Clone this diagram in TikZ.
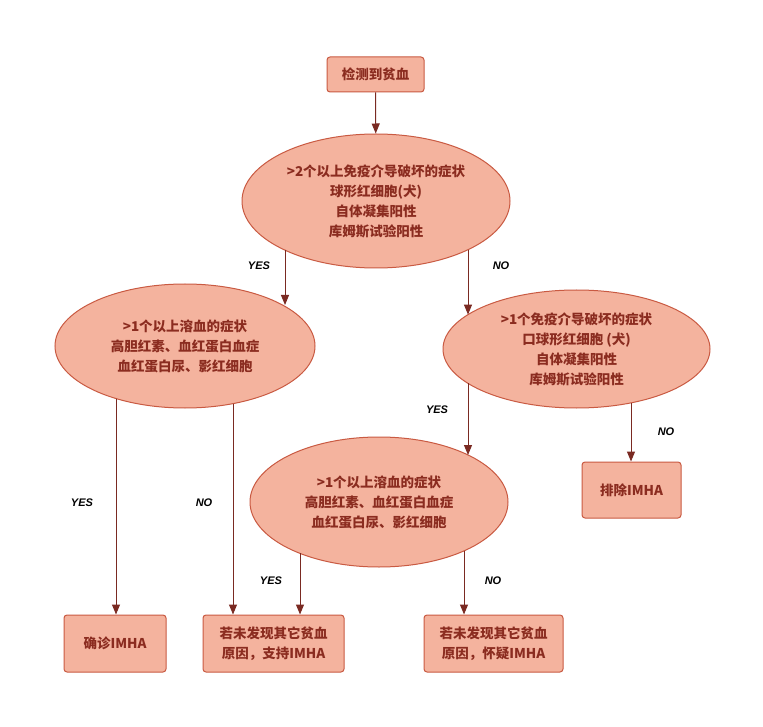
\documentclass[tikz,border=0pt]{standalone}
\usepackage{fontspec}
\usetikzlibrary{shapes.geometric,arrows.meta}
\newfontfamily\cjk{Noto Sans CJK SC}
\newfontfamily\lblfont{Liberation Sans}
\definecolor{fillc}{HTML}{F4B39E}
\definecolor{linec}{HTML}{C95A42}
\definecolor{textc}{HTML}{8B2C20}
\definecolor{arrc}{HTML}{7A2A22}
\begin{document}
\begin{tikzpicture}[x=1pt,y=-1pt,
  shapebase/.style={fill=fillc,draw=linec,line width=1pt,text=textc,font=\cjk\bfseries\fontsize{13.5}{20}\selectfont,align=center,inner sep=0pt},
  ell/.style={shapebase,ellipse},
  rbox/.style={shapebase,rectangle,rounded corners=3pt},
  arr/.style={draw=arrc,line width=1pt,-{Triangle[length=10pt,width=8pt]},fill=arrc},
  lbl/.style={font=\lblfont\bfseries\itshape\fontsize{11}{13}\selectfont,text=black}]
\useasboundingbox (0,0) rectangle (763,727);
\fill[white] (0,0) rectangle (763,727);
% nodes
\node[rbox,minimum width=97pt,minimum height=35pt] (top) at (375.5,74.5) {检测到贫血};
\node[ell,minimum width=268pt,minimum height=134pt] (e1) at (376,201) {>2个以上免疫介导破坏的症状\\球形红细胞(犬)\\自体凝集阳性\\库姆斯试验阳性};
\node[ell,minimum width=260pt,minimum height=124pt] (e2) at (185,346) {>1个以上溶血的症状\\高胆红素、血红蛋白血症\\血红蛋白尿、影红细胞};
\node[ell,minimum width=267pt,minimum height=118pt] (e3) at (576.5,349) {>1个免疫介导破坏的症状\\口球形红细胞 (犬)\\自体凝集阳性\\库姆斯试验阳性};
\node[ell,minimum width=258pt,minimum height=130pt] (e4) at (379,502) {>1个以上溶血的症状\\高胆红素、血红蛋白血症\\血红蛋白尿、影红细胞};
\node[rbox,minimum width=102pt,minimum height=57pt] (b1) at (115,643.5) {确诊IMHA};
\node[rbox,minimum width=141pt,minimum height=57pt] (b2) at (273.5,643.5) {若未发现其它贫血\\原因，支持IMHA};
\node[rbox,minimum width=139pt,minimum height=57pt] (b3) at (493.5,643.5) {若未发现其它贫血\\原因，怀疑IMHA};
\node[rbox,minimum width=99pt,minimum height=56pt] (b4) at (631.5,490) {排除IMHA};
% connector endpoints on ellipse borders
\coordinate (s1) at (285,250);
\coordinate (t1) at (285,305);
\coordinate (s2) at (468,249.7);
\coordinate (t2) at (468,314.6);
\coordinate (s3) at (468,383.4);
\coordinate (t3) at (468,455);
\coordinate (s4) at (631,403);
\coordinate (s5) at (116,398.5);
\coordinate (s6) at (233,403.6);
\coordinate (s7) at (300,553.4);
\coordinate (s8) at (464,551);
% connectors
\draw[arr] (top) -- (e1);
\draw[arr] (s1) -- (t1);
\draw[arr] (s2) -- (t2);
\draw[arr] (s3) -- (t3);
\draw[arr] (s4) -- (s4 |- b4.north);
\draw[arr] (s5) -- (s5 |- b1.north);
\draw[arr] (s6) -- (s6 |- b2.north);
\draw[arr] (s7) -- (s7 |- b2.north);
\draw[arr] (s8) -- (s8 |- b3.north);
% labels
\node[lbl] (l1) at (259,266) {YES};
\node[lbl] (l2) at (501,266) {NO};
\node[lbl] (l3) at (437,410) {YES};
\node[lbl] (l4) at (666,432) {NO};
\node[lbl] (l5) at (82,503) {YES};
\node[lbl] (l6) at (204,503) {NO};
\node[lbl] (l7) at (271,581) {YES};
\node[lbl] (l8) at (493,581) {NO};
\end{tikzpicture}
\end{document}
